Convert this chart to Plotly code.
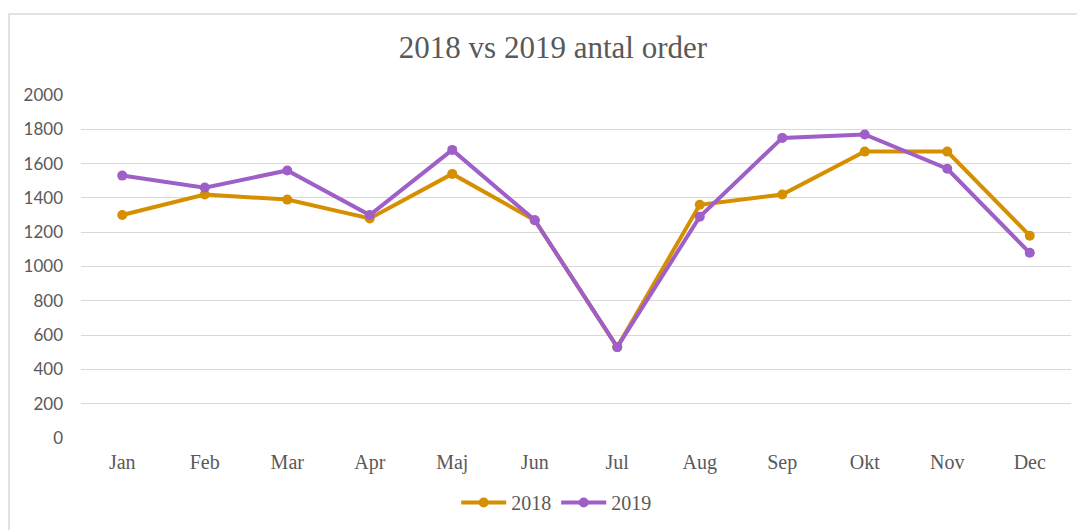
import plotly.graph_objects as go

months = ["Jan", "Feb", "Mar", "Apr", "Maj", "Jun", "Jul", "Aug", "Sep", "Okt", "Nov", "Dec"]
orders_2018 = [1300, 1420, 1390, 1280, 1540, 1270, 530, 1360, 1420, 1670, 1670, 1180]
orders_2019 = [1530, 1460, 1560, 1300, 1680, 1270, 530, 1290, 1750, 1770, 1570, 1080]
y_ticks = [0, 200, 400, 600, 800, 1000, 1200, 1400, 1600, 1800, 2000]

c2018 = "#D68F00"
c2019 = "#9E5FC8"
txt = "#595959"
serif = "Liberation Serif, Times New Roman, serif"
sans = "Lato, Carlito, Calibri, sans-serif"

fig = go.Figure()
fig.add_trace(go.Scatter(x=months, y=orders_2018, name="2018", mode="lines+markers",
                         line=dict(color=c2018, width=4), marker=dict(size=10, color=c2018)))
fig.add_trace(go.Scatter(x=months, y=orders_2019, name="2019", mode="lines+markers",
                         line=dict(color=c2019, width=4), marker=dict(size=10, color=c2019)))

fig.update_layout(
    width=1077, height=522,
    margin=dict(l=73, r=14, t=87, b=92, autoexpand=False),
    paper_bgcolor="white", plot_bgcolor="white",
    font=dict(family=serif, color=txt, size=20),
    title=dict(text="2018 vs 2019 antal order", x=0.506, xanchor="center", y=0.925, yanchor="middle",
               font=dict(size=31, color=txt, family=serif)),
    showlegend=True,
    legend=dict(orientation="h", x=0.48, xanchor="center", y=-0.188, yanchor="middle",
                font=dict(size=20, color=txt, family=serif), itemwidth=45, tracegroupgap=0),
    xaxis=dict(range=[-0.5, 11.5], showgrid=False, showline=False, zeroline=False, ticks="",
               ticklabelstandoff=10, tickfont=dict(size=20, color=txt, family=serif),
               automargin=False),
    yaxis=dict(range=[0, 2000], tickvals=y_ticks, showgrid=True, gridcolor="#D9D9D9", gridwidth=1.3,
               zeroline=False, showline=False, ticks="", ticklabelstandoff=17, automargin=False,
               tickfont=dict(size=17, color=txt, family=sans)),
    shapes=[dict(type="rect", xref="paper", yref="paper", x0=-0.0727, x1=1.05, y0=-0.3, y1=1.236,
                 line=dict(color="#D9D9D9", width=1.5), fillcolor="rgba(0,0,0,0)", layer="below")],
)

fig.write_html("out.html")
